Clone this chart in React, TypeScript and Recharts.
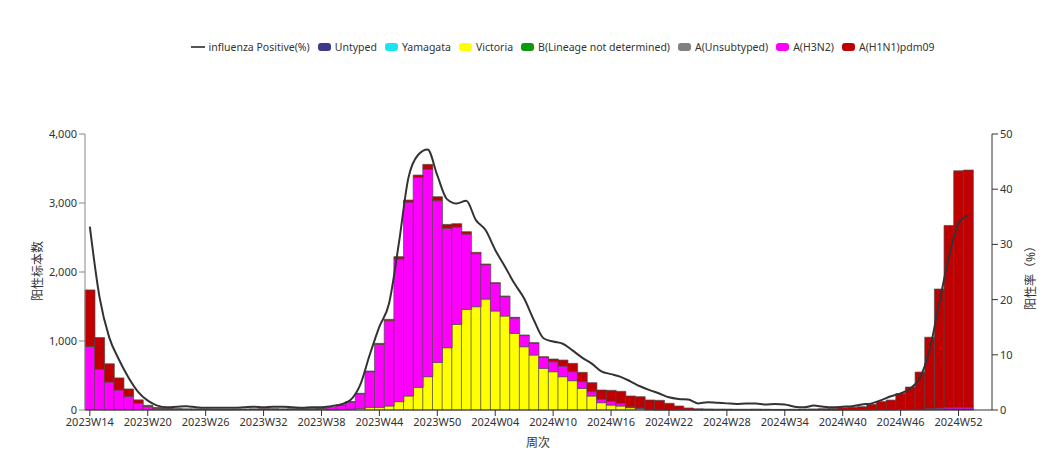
import { ComposedChart, Bar, Line, XAxis, YAxis } from "recharts";

const weeks: string[] = [];
for (let w = 14; w <= 52; w++) weeks.push("2023W" + String(w).padStart(2, "0"));
for (let w = 1; w <= 52; w++) weeks.push("2024W" + String(w).padStart(2, "0"));
weeks.push("2025W01");

const untyped = [
  0, 0, 0, 0, 0, 0, 0, 0, 0, 0,
  0, 0, 0, 0, 0, 0, 0, 0, 0, 0,
  0, 0, 0, 0, 0, 0, 0, 0, 0, 0,
  0, 0, 0, 0, 0, 0, 0, 0, 0, 0,
  0, 0, 0, 0, 0, 0, 0, 0, 0, 0,
  0, 0, 0, 0, 0, 0, 0, 0, 0, 0,
  0, 0, 0, 0, 0, 0, 0, 0, 0, 0,
  0, 0, 0, 0, 0, 0, 0, 0, 0, 0,
  0, 0, 0, 0, 0, 0, 0, 8, 12, 15,
  15, 15,
];
const yamagata = new Array(92).fill(0);
const victoria = [
  0, 0, 0, 0, 0, 0, 0, 0, 0, 0,
  0, 0, 0, 0, 0, 0, 0, 0, 0, 0,
  0, 0, 0, 0, 0, 5, 8, 12, 20, 39,
  39, 58, 121, 203, 329, 483, 690, 903, 1241, 1459,
  1497, 1608, 1435, 1362, 1111, 917, 797, 604, 555, 483,
  425, 314, 203, 106, 72, 58, 34, 20, 5, 3,
  3, 0, 0, 0, 0, 0, 0, 0, 0, 0,
  0, 0, 0, 0, 0, 0, 0, 0, 0, 0,
  0, 0, 0, 0, 0, 0, 0, 0, 0, 0,
  0, 0,
];
const bLineageNd = new Array(92).fill(0);
const aUnsubtyped = new Array(92).fill(0);
const h3n2 = [
  920, 590, 405, 290, 195, 97, 50, 25, 15, 12,
  10, 8, 8, 6, 5, 6, 8, 10, 12, 12,
  10, 12, 14, 14, 18, 35, 62, 105, 215, 516,
  912, 1236, 2069, 2810, 3042, 3005, 2343, 1729, 1411, 1091,
  769, 498, 400, 282, 224, 162, 169, 157, 145, 154,
  130, 97, 63, 49, 54, 39, 10, 8, 5, 2,
  2, 3, 2, 1, 1, 1, 1, 1, 1, 1,
  1, 1, 1, 1, 1, 1, 1, 1, 2, 2,
  2, 3, 4, 4, 6, 8, 10, 12, 16, 20,
  22, 22,
];
const h1n1 = [
  820, 460, 265, 175, 110, 50, 18, 10, 8, 6,
  5, 8, 6, 5, 4, 5, 6, 5, 6, 5,
  4, 5, 4, 3, 2, 0, 2, 4, 7, 10,
  15, 20, 32, 30, 34, 72, 58, 58, 48, 34,
  19, 10, 10, 8, 8, 8, 10, 12, 39, 87,
  121, 135, 130, 135, 159, 174, 159, 165, 135, 135,
  92, 55, 27, 17, 14, 12, 12, 10, 10, 12,
  10, 8, 8, 10, 12, 14, 18, 22, 30, 38,
  46, 80, 118, 140, 232, 325, 540, 1035, 1725, 2640,
  3430, 3440,
];
const positive = [
  33.2, 20.5, 13.2, 9.2, 5.9, 3.3, 1.7, 0.8, 0.5, 0.6,
  0.7, 0.5, 0.4, 0.4, 0.4, 0.4, 0.5, 0.6, 0.5, 0.6,
  0.6, 0.5, 0.4, 0.5, 0.5, 0.7, 1.0, 1.8, 4.5, 10.0,
  15.1, 19.3, 30.0, 42.0, 46.2, 47.2, 42.5, 38.2, 37.4, 37.9,
  34.4, 32.6, 29.0, 26.0, 22.9, 20.2, 16.3, 13.0, 12.4, 12.0,
  10.8, 9.5, 8.4, 7.0, 6.5, 6.0, 5.2, 4.3, 3.6, 3.0,
  2.3, 2.0, 1.9, 1.2, 1.4, 1.3, 1.2, 1.1, 1.2, 1.2,
  1.0, 1.1, 1.0, 0.6, 0.5, 0.8, 0.6, 0.5, 0.6, 0.7,
  1.0, 1.2, 1.8, 2.5, 3.0, 3.9, 5.8, 10.9, 19.3, 27.7,
  33.8, 35.3,
];

const leftTicks = [0, 1000, 2000, 3000, 4000];
const rightTicks = [0, 10, 20, 30, 40, 50];

const barSeries = [
  { key: "untyped", name: "Untyped", color: "#3d3a8c", values: untyped },
  { key: "yamagata", name: "Yamagata", color: "#19e6f0", values: yamagata },
  { key: "victoria", name: "Victoria", color: "#ffff00", values: victoria },
  { key: "bnd", name: "B(Lineage not determined)", color: "#0a9a0a", values: bLineageNd },
  { key: "aun", name: "A(Unsubtyped)", color: "#808080", values: aUnsubtyped },
  { key: "h3n2", name: "A(H3N2)", color: "#ff00ff", values: h3n2 },
  { key: "h1n1", name: "A(H1N1)pdm09", color: "#c00000", values: h1n1 },
];
const lineName = "influenza Positive(%)";

const data = weeks.map((week, i) => {
  const row: Record<string, string | number> = { week, positive: positive[i] };
  barSeries.forEach((s) => {
    row[s.key] = s.values[i];
  });
  return row;
});

const font = "'Noto Sans', 'Noto Sans CJK SC', sans-serif";
const tickStyle = { fontSize: 11, fill: "#333", fontFamily: font };

export default function App() {
  return (
    <div style={{ position: "relative", width: 1045, height: 459, fontFamily: font }}>
      <div
        style={{
          position: "absolute",
          top: 32,
          left: 36,
          width: 1045,
          display: "flex",
          justifyContent: "center",
          alignItems: "center",
          fontSize: 10.5,
          color: "#333",
          whiteSpace: "nowrap",
        }}
      >
        <span style={{ display: "flex", alignItems: "center", marginRight: 8 }}>
          <span style={{ width: 14, height: 2, background: "#555", marginRight: 4 }} />
          {lineName}
        </span>
        {barSeries.map((s) => (
          <span key={s.key} style={{ display: "flex", alignItems: "center", marginRight: 8 }}>
            <span
              style={{ width: 13, height: 8, borderRadius: 3, background: s.color, marginRight: 4 }}
            />
            {s.name}
          </span>
        ))}
      </div>

      <ComposedChart
        width={1045}
        height={459}
        data={data}
        margin={{ top: 126, right: 21, bottom: 27, left: 17 }}
        barCategoryGap={0}
        barGap={0}
      >
        <XAxis
          dataKey="week"
          interval={5}
          tick={tickStyle}
          tickLine={{ stroke: "#333" }}
          axisLine={{ stroke: "#333" }}
          padding={{ left: 0, right: 19 }}
        />
        <YAxis
          yAxisId="left"
          width={60}
          domain={[0, 4000]}
          ticks={leftTicks}
          tickFormatter={(v: number) => v.toLocaleString("en-US")}
          tick={tickStyle}
          tickLine={{ stroke: "#888" }}
          axisLine={{ stroke: "#888" }}
        />
        <YAxis
          yAxisId="right"
          orientation="right"
          width={40}
          domain={[0, 50]}
          ticks={rightTicks}
          tick={tickStyle}
          tickLine={{ stroke: "#333" }}
          axisLine={{ stroke: "#333" }}
        />
        {barSeries.map((s) => (
          <Bar
            key={s.key}
            yAxisId="left"
            dataKey={s.key}
            name={s.name}
            stackId="a"
            fill={s.color}
            stroke="#4a4a4a"
            strokeWidth={0.7}
            isAnimationActive={false}
          />
        ))}
        <Line
          yAxisId="right"
          dataKey="positive"
          name={lineName}
          type="monotone"
          stroke="#333"
          strokeWidth={2}
          dot={false}
          isAnimationActive={false}
        />
      </ComposedChart>

      <div
        style={{
          position: "absolute",
          left: 29,
          top: 263,
          transform: "translate(-50%, -50%) rotate(-90deg)",
          fontSize: 12,
          color: "#333",
          whiteSpace: "nowrap",
        }}
      >
        阳性标本数
      </div>
      <div
        style={{
          position: "absolute",
          left: 1022,
          top: 267,
          transform: "translate(-50%, -50%) rotate(-90deg)",
          fontSize: 12,
          color: "#333",
          whiteSpace: "nowrap",
        }}
      >
        阳性率（%）
      </div>
      <div
        style={{
          position: "absolute",
          left: 530,
          top: 434,
          transform: "translate(-50%, -50%)",
          fontSize: 12,
          color: "#333",
          whiteSpace: "nowrap",
        }}
      >
        周次
      </div>
    </div>
  );
}
